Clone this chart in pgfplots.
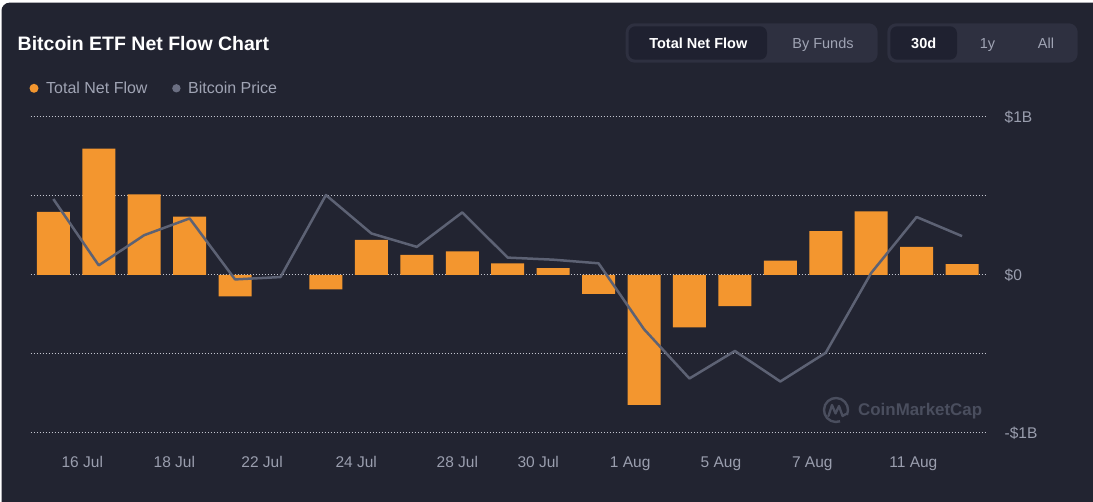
\documentclass[border=0pt]{standalone}
\usepackage{pgfplots}
\pgfplotsset{compat=1.18}
\usepackage{fontspec}
\setmainfont{Liberation Sans}
\definecolor{bg}{HTML}{222431}
\definecolor{btnbg}{HTML}{2E3040}
\definecolor{selc}{HTML}{1F2130}
\definecolor{barc}{HTML}{F3962F}
\definecolor{linec}{HTML}{5D6274}
\definecolor{legc}{HTML}{A0A4B4}
\definecolor{labc}{HTML}{9A9EAE}
\definecolor{gridc}{HTML}{C4C6D0}
\definecolor{wmc}{HTML}{4A4E5E}
\definecolor{dotg}{HTML}{6B6F82}
\begin{document}
\begin{tikzpicture}[x=1pt,y=1pt]
\useasboundingbox (0,0) rectangle (1093,502);
\fill[white] (0,0) rectangle (1093,502);
\fill[bg, rounded corners=8pt] (1.5,-20) rectangle (1115,499.3);
\begin{axis}[
  at={(30.6pt,69pt)}, anchor=south west,
  scale only axis, width=956pt, height=316pt,
  xmin=0.5, xmax=21.54, ymin=-1, ymax=1,
  axis line style={draw=none},
  tick style={draw=none}, major tick length=0pt,
  ytick={-1,-0.5,0,0.5,1},
  yticklabels={-\$1B,,\$0,,\$1B},
  yticklabel pos=right,
  yticklabel style={anchor=west, xshift=14.5pt, text=labc, font=\fontsize{15.5}{17}\selectfont},
  ymajorgrids,
  grid style={gridc, line width=1pt, dash pattern=on 1pt off 2pt},
  xtick={1.638,3.663,5.596,7.667,9.893,11.671,13.697,15.693,17.703,19.928},
  xticklabels={16 Jul,18 Jul,22 Jul,24 Jul,28 Jul,30 Jul,1 Aug,5 Aug,7 Aug,11 Aug},
  xticklabel style={anchor=base, yshift=-34.3pt, text=labc, font=\fontsize{15.5}{17}\selectfont},
  clip=false,
]
\addplot[ybar, bar width=33pt, fill=barc, draw=none] coordinates {
 (1,0.40) (2,0.80) (3,0.51) (4,0.37) (5,-0.136) (7,-0.091) (8,0.222)
 (9,0.127) (10,0.150) (11,0.074) (12,0.044) (13,-0.119) (14,-0.822)
 (15,-0.331) (16,-0.197) (17,0.091) (18,0.278) (19,0.403) (20,0.178) (21,0.068)
};
\addplot[linec, line width=2.5pt, mark=none, line join=round] coordinates {
 (1,0.481) (2,0.061) (3,0.252) (4,0.358) (5,-0.028) (6,-0.013) (7,0.506)
 (8,0.263) (9,0.178) (10,0.396) (11,0.110) (12,0.097) (13,0.074) (14,-0.343)
 (15,-0.655) (16,-0.481) (17,-0.674) (18,-0.492) (19,0.013) (20,0.367) (21,0.246)
};
\end{axis}
% title
\node[anchor=base west, inner sep=0, text=white, font=\bfseries\fontsize{19.5}{21}\selectfont] at (17.5,451.3) {Bitcoin ETF Net Flow Chart};
% legend
\fill[barc] (34,413.7) circle (4.5);
\node[anchor=base west, inner sep=0, text=legc, font=\fontsize{16}{18}\selectfont] at (46,408.7) {Total Net Flow};
\fill[dotg] (176.4,413.7) circle (4.2);
\node[anchor=base west, inner sep=0, text=legc, font=\fontsize{16}{18}\selectfont] at (188,408.7) {Bitcoin Price};
% buttons
\fill[btnbg, rounded corners=9pt] (625.7,439.3) rectangle (877.7,478.7);
\fill[selc, rounded corners=7pt] (628.5,442.3) rectangle (767,475.7);
\node[anchor=base, inner sep=0, text=white, font=\bfseries\fontsize{14.5}{16}\selectfont] at (698.3,453.7) {Total Net Flow};
\node[anchor=base, inner sep=0, text=legc, font=\fontsize{14.5}{16}\selectfont] at (823,453.7) {By Funds};
\fill[btnbg, rounded corners=9pt] (887.3,439.3) rectangle (1077.7,478.7);
\fill[selc, rounded corners=7pt] (890.3,442.3) rectangle (957,475.7);
\node[anchor=base, inner sep=0, text=white, font=\bfseries\fontsize{14.5}{16}\selectfont] at (923.7,453.7) {30d};
\node[anchor=base, inner sep=0, text=legc, font=\fontsize{14.5}{16}\selectfont] at (987.5,453.7) {1y};
\node[anchor=base, inner sep=0, text=legc, font=\fontsize{14.5}{16}\selectfont] at (1046,453.7) {All};
% watermark
\draw[wmc, line width=2.4pt] (836,92) ++(-25:12) arc[start angle=-25, end angle=290, radius=12];
\draw[wmc, line width=2.3pt, line join=round, line cap=round] (828.5,86) -- (832,97) -- (835.5,88.5) -- (839,96) -- (842.5,86) -- (846,88);
\node[anchor=base west, inner sep=0, text=wmc, font=\bfseries\fontsize{16.9}{19}\selectfont] at (858,86) {CoinMarketCap};
\end{tikzpicture}
\end{document}
